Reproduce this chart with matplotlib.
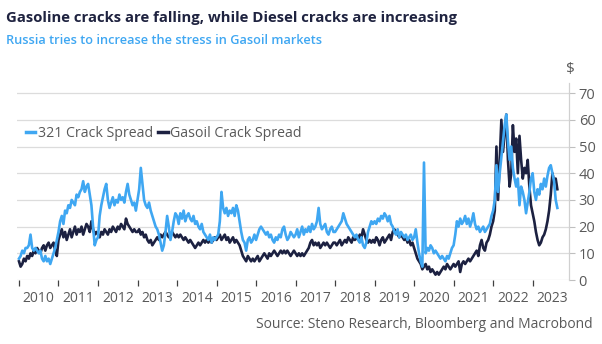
import matplotlib.pyplot as plt
from matplotlib.ticker import FixedLocator
import numpy as np

plt.rcParams['font.family'] = ['Open Sans', 'DejaVu Sans']

# semi-monthly readings, one list per year (24 points a year, 2023 partial)
crack_321 = {
    2010: [8, 9, 11, 10, 12, 12, 13, 17, 12, 11, 12, 11, 10, 11, 8, 7, 9, 7, 8, 6, 8, 10, 12, 15],
    2011: [18, 22, 24, 21, 26, 25, 28, 27, 30, 29, 28, 32, 31, 33, 34, 37, 33, 35, 36, 32, 28, 20, 13, 15],
    2012: [16, 24, 28, 31, 34, 36, 30, 27, 29, 31, 28, 30, 29, 32, 30, 31, 29, 33, 36, 32, 30, 28, 29, 26],
    2013: [30, 34, 42, 36, 30, 28, 27, 29, 26, 24, 22, 20, 19, 17, 14, 11, 13, 18, 24, 20, 15, 18, 22, 25],
    2014: [24, 21, 25, 23, 26, 22, 24, 25, 23, 22, 24, 21, 22, 20, 19, 21, 18, 17, 16, 15, 17, 14, 16, 15],
    2015: [16, 17, 22, 33, 27, 25, 27, 24, 26, 25, 27, 24, 28, 26, 22, 18, 15, 14, 11, 15, 16, 14, 15, 17],
    2016: [15, 17, 19, 20, 19, 18, 17, 18, 16, 17, 15, 14, 16, 15, 17, 16, 19, 20, 17, 15, 16, 18, 17, 16],
    2017: [17, 19, 16, 18, 20, 17, 19, 18, 20, 18, 21, 19, 20, 22, 27, 21, 19, 20, 21, 18, 17, 19, 20, 18],
    2018: [18, 19, 20, 21, 22, 25, 23, 21, 20, 19, 18, 17, 16, 17, 15, 14, 16, 13, 12, 14, 18, 20, 22, 21],
    2019: [22, 21, 23, 22, 24, 23, 25, 24, 22, 24, 21, 20, 18, 17, 19, 16, 18, 17, 16, 17, 15, 16, 17, 15],
    2020: [16, 19, 14, 10, 7, 5, 44, 10, 12, 11, 13, 12, 10, 11, 10, 9, 8, 9, 8, 7, 9, 8, 10, 12],
    2021: [13, 17, 22, 20, 23, 21, 22, 24, 21, 23, 20, 22, 25, 21, 19, 20, 18, 19, 20, 18, 19, 20, 21, 24],
    2022: [26, 30, 43, 33, 40, 46, 52, 58, 62, 52, 45, 50, 42, 38, 35, 38, 28, 35, 33, 30, 25, 29, 33, 38],
    2023: [40, 33, 30, 34, 32, 36, 34, 38, 35, 39, 42, 43, 40, 37, 30, 27],
}
gasoil_crack = {
    2010: [7, 5, 6, 8, 7, 9, 8, 10, 9, 11, 10, 12, 11, 10, 12, 13, 11, 13, 14, 12, 13, 14, 11, 9],
    2011: [15, 17, 19, 16, 18, 15, 17, 19, 16, 18, 20, 17, 19, 18, 20, 17, 19, 21, 20, 18, 22, 19, 17, 18],
    2012: [17, 16, 18, 17, 19, 18, 17, 19, 18, 20, 19, 18, 20, 19, 21, 20, 19, 23, 21, 20, 19, 18, 19, 18],
    2013: [18, 19, 17, 18, 16, 17, 15, 14, 15, 13, 14, 15, 16, 15, 17, 16, 17, 18, 17, 16, 17, 18, 17, 16],
    2014: [17, 16, 17, 16, 15, 16, 15, 14, 15, 14, 13, 12, 13, 14, 13, 14, 15, 14, 15, 14, 15, 14, 15, 16],
    2015: [15, 16, 17, 15, 16, 17, 15, 16, 14, 15, 16, 14, 15, 14, 13, 11, 9, 8, 7, 9, 8, 7, 8, 7],
    2016: [8, 9, 7, 8, 9, 10, 9, 8, 10, 9, 10, 11, 10, 9, 10, 11, 10, 11, 10, 11, 10, 9, 10, 11],
    2017: [10, 9, 10, 9, 10, 9, 10, 11, 12, 14, 15, 13, 14, 13, 14, 12, 13, 14, 13, 14, 13, 12, 13, 14],
    2018: [14, 13, 14, 15, 13, 14, 15, 14, 16, 15, 14, 16, 15, 16, 15, 17, 16, 19, 17, 15, 14, 15, 14, 15],
    2019: [14, 16, 15, 13, 15, 16, 14, 15, 16, 17, 15, 18, 19, 18, 17, 16, 17, 16, 15, 16, 14, 15, 13, 14],
    2020: [12, 10, 8, 7, 6, 4, 5, 6, 4, 5, 3, 4, 3, 2, 3, 2, 3, 4, 5, 4, 6, 5, 4, 5],
    2021: [6, 5, 6, 7, 3, 6, 7, 6, 7, 8, 7, 8, 9, 10, 11, 9, 13, 15, 12, 11, 14, 15, 17, 20],
    2022: [22, 26, 50, 30, 45, 60, 48, 55, 62, 45, 35, 40, 58, 48, 53, 40, 54, 45, 38, 42, 40, 45, 35, 28],
    2023: [25, 22, 18, 15, 13, 14, 16, 17, 19, 22, 26, 32, 40, 37, 38, 34],
}
years = list(range(2010, 2024))
y_ticks = [0, 10, 20, 30, 40, 50, 60, 70]

light_blue = '#3fa7f2'
navy = '#1c2141'
grey = '#595959'


def to_series(d):
    xs, ys = [], []
    for yr, vals in d.items():
        for i, v in enumerate(vals):
            xs.append(yr + i / 24)
            ys.append(v)
    return np.array(xs), np.array(ys)


x1, v1 = to_series(crack_321)
x2, v2 = to_series(gasoil_crack)

fig = plt.figure(figsize=(6.02, 3.44), dpi=100)
ax = fig.add_axes([17 / 602, 1 - 280 / 344, (569 - 17) / 602, (280 - 83) / 344])

ax.plot(x2, v2, color=navy, lw=1.9, label='Gasoil Crack Spread', zorder=3)
ax.plot(x1, v1, color=light_blue, lw=1.9, label='321 Crack Spread', zorder=4)

ax.set_xlim(2009.95, 2023.92)
ax.set_ylim(0, 73.8)

# y axis on the right
ax.yaxis.tick_right()
ax.set_yticks(y_ticks)
ax.tick_params(axis='y', direction='out', length=4, width=0.8, color='#bfbfbf',
               labelsize=10.5, labelcolor=grey, pad=3)
ax.grid(axis='y', color='#dcdcdc', lw=0.9)
ax.set_axisbelow(True)

# x axis: ticks at year starts, labels mid-year
ax.xaxis.set_major_locator(FixedLocator(years))
ax.xaxis.set_minor_locator(FixedLocator([y + 0.5 for y in years]))
ax.set_xticklabels([])
ax.set_xticklabels([str(y) for y in years], minor=True)
ax.tick_params(axis='x', which='major', direction='out', length=4, width=0.9, color='#404040')
ax.tick_params(axis='x', which='minor', length=0, labelsize=10, labelcolor=grey, pad=8)

for s in ['top', 'left', 'bottom']:
    ax.spines[s].set_visible(False)
ax.spines['right'].set_color('#d0d0d0')
ax.spines['right'].set_linewidth(0.9)

handles, labels = ax.get_legend_handles_labels()
leg = ax.legend(handles[::-1], labels[::-1], loc='center left', bbox_to_anchor=(0.0, 0.745),
                ncol=2, frameon=False, fontsize=10.2, handlelength=0.7, handletextpad=0.2,
                columnspacing=0.3, borderaxespad=0.2)
for t in leg.get_texts():
    t.set_color(grey)
for h in leg.legend_handles:
    h.set_linewidth(2.5)

fig.text(6 / 602, 1 - 18 / 344, 'Gasoline cracks are falling, while Diesel cracks are increasing',
         fontsize=10.75, fontweight='bold', color='#1f2340', va='center', ha='left')
fig.text(6 / 602, 1 - 40 / 344, 'Russia tries to increase the stress in Gasoil markets',
         fontsize=9.15, fontweight='semibold', color='#3fa7f2', va='center', ha='left')
fig.text(570 / 602, 1 - 70 / 344, '$', fontsize=11, color=grey, va='center', ha='center')
fig.text(593 / 602, 1 - 325 / 344, 'Source: Steno Research, Bloomberg and Macrobond',
         fontsize=10, color=grey, va='center', ha='right')

fig.savefig('out.png', dpi=100)
